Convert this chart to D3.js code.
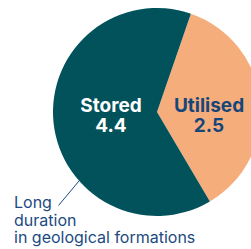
<!DOCTYPE html>
<html>
<head>
<meta charset="utf-8">
<script src="https://cdn.jsdelivr.net/npm/d3@7"></script>
<style>
  html, body { margin: 0; padding: 0; background: #fff; }
  svg { display: block; }
</style>
</head>
<body>
<svg id="chart" width="251" height="249"></svg>
<script>
// values, in the order they go round the pie
const categories = ['Utilised', 'Stored'];
const values = [2.5, 4.4];
const colours = ['#f5ad7c', '#02525b'];
const labelColours = ['#15467a', '#ffffff'];
const note = ['Long', 'duration', 'in geological formations'];

const svg = d3.select('#chart');
const cx = 157;
const cy = 112;
const radius = 104;

const pie = d3
  .pie()
  .sort(null)
  .startAngle((19 * Math.PI) / 180)
  .endAngle((19 * Math.PI) / 180 + 2 * Math.PI);

const arc = d3.arc().innerRadius(0).outerRadius(radius);

const data = pie(values).map((d, i) => ({ ...d, label: categories[i], i }));

const g = svg.append('g').attr('transform', `translate(${cx},${cy})`);

g.selectAll('path')
  .data(data)
  .join('path')
  .attr('d', arc)
  .attr('fill', (d) => colours[d.i]);

// slice labels
const labelPos = [
  [52, 0],
  [-46, 0]
];

const lbl = g
  .selectAll('.slice-label')
  .data(data)
  .join('text')
  .attr('class', 'slice-label')
  .attr('text-anchor', 'middle')
  .style('font-family', 'Inter, sans-serif')
  .style('font-weight', 'bold')
  .style('font-size', '19px')
  .style('fill', (d) => labelColours[d.i]);

lbl
  .append('tspan')
  .attr('x', (d) => labelPos[d.i][0])
  .attr('y', 0.3)
  .text((d) => d.label);

lbl
  .append('tspan')
  .attr('x', (d) => labelPos[d.i][0])
  .attr('y', 20.3)
  .text((d) => d.value);

// annotation with leader line
svg
  .append('line')
  .attr('x1', 79)
  .attr('y1', 181)
  .attr('x2', 58.5)
  .attr('y2', 205.5)
  .attr('stroke', '#1c4a80')
  .attr('stroke-width', 1);

svg
  .append('g')
  .style('font-family', 'Inter, sans-serif')
  .style('font-size', '16px')
  .style('fill', '#1c4a80')
  .selectAll('text')
  .data(note)
  .join('text')
  .attr('x', 14)
  .attr('y', (d, i) => 207.7 + i * 17.8)
  .text((d) => d);
</script>
</body>
</html>
